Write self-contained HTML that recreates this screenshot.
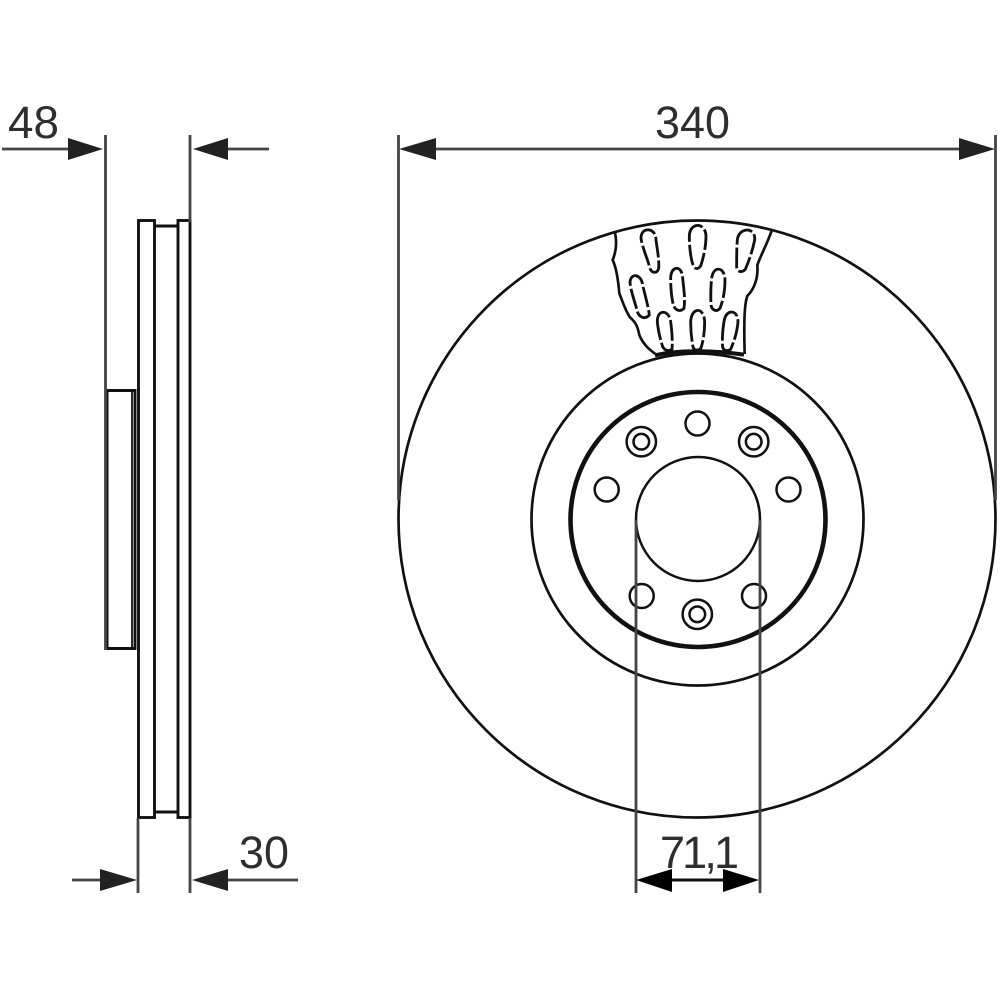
<!DOCTYPE html>
<html>
<head>
<meta charset="utf-8">
<style>
html,body{margin:0;padding:0;background:#fff;}
svg{display:block;}
text{font-family:"Liberation Sans",sans-serif;font-size:45px;fill:#2e2e2e;}
.art{filter:blur(0.35px);}
</style>
</head>
<body>
<svg width="1000" height="1000" viewBox="0 0 1000 1000" xmlns="http://www.w3.org/2000/svg">
<rect width="1000" height="1000" fill="#fff"/>
<g class="art">
<!-- Front view circles -->
<g fill="none" stroke="#111">
  <circle cx="697" cy="519" r="298.5" stroke-width="2.7"/>
  <circle cx="697.5" cy="519.5" r="166" stroke-width="2.7"/>
  <circle cx="698" cy="519.5" r="127.5" stroke-width="4.6"/>
  <circle cx="698" cy="519" r="62" stroke-width="2.5"/>
  <g stroke-width="2.5">
    <circle cx="697.5" cy="423.5" r="12"/>
    <circle cx="606.7" cy="489.5" r="12"/>
    <circle cx="788.5" cy="489.5" r="12"/>
    <circle cx="641.7" cy="596" r="12"/>
    <circle cx="754" cy="596" r="12"/>
    <circle cx="641.3" cy="441.7" r="14.7"/>
    <circle cx="641.3" cy="441.7" r="7.8"/>
    <circle cx="753.7" cy="441.7" r="14.7"/>
    <circle cx="753.7" cy="441.7" r="7.8"/>
    <circle cx="697.3" cy="614.3" r="14.7"/>
    <circle cx="697.3" cy="614.3" r="7.8"/>
  </g>
</g>

<!-- Vent cutaway -->
<g transform="translate(600 210) scale(0.3333)" fill="none" stroke="#111">
  <path stroke-width="8" d="M45 68 C52 100 48 125 38 150 C50 175 55 215 58 250 C70 280 75 300 90 322 C105 335 112 345 118 375 C130 405 150 420 170 435"/>
  <path stroke-width="8" d="M515 62 C500 105 485 130 472 165 C475 200 465 235 442 258 C432 285 432 350 434 432"/>
  <path stroke-width="12" d="M165 436 C230 420 340 420 432 434"/>
  <g stroke-width="8.5" stroke-dasharray="62 9">
    <path d="M123 85 C122 50 168 50 168 90 C172 120 178 150 176 175 C172 192 155 190 150 175 C142 145 128 115 123 85Z"/>
    <path d="M268 80 C268 35 318 35 318 80 C318 110 310 145 302 168 C295 178 285 178 280 168 C272 145 268 110 268 80Z"/>
    <path d="M412 90 C416 50 468 50 464 90 C458 120 448 150 436 178 C425 190 410 185 410 170 C410 140 410 115 412 90Z"/>
    <path d="M90 215 C95 185 125 195 128 225 C135 255 145 290 148 315 C135 330 118 322 112 305 C105 275 92 245 90 215Z"/>
    <path d="M212 205 C212 165 248 165 248 205 C252 240 256 270 252 295 C240 308 225 300 220 285 C214 260 212 230 212 205Z"/>
    <path d="M335 205 C340 165 375 170 375 210 C375 240 370 270 360 295 C350 308 335 300 333 285 C332 260 332 230 335 205Z"/>
    <path d="M172 335 C172 295 208 300 212 335 C216 365 218 395 216 418 C205 425 195 422 188 410 C180 385 174 360 172 335Z"/>
    <path d="M272 335 C275 290 312 290 314 335 C314 365 310 395 302 416 C295 422 285 422 280 414 C275 395 272 360 272 335Z"/>
    <path d="M372 335 C378 295 414 298 414 335 C412 365 402 395 392 418 C382 425 372 422 368 412 C366 385 368 360 372 335Z"/>
  </g>
</g>

<!-- Side view -->
<g fill="none" stroke="#111" stroke-width="2.9">
  <rect x="138.5" y="220.5" width="16" height="597"/>
  <rect x="178" y="220.5" width="12" height="597"/>
  <path d="M154.5 226H178M154.5 812H178"/>
  <path d="M107 390.5H135V648.5H107"/>
  <path d="M132 390.5V648.5" stroke-width="1.8"/>
  <path d="M106.5 390V648" stroke-width="4"/>
</g>

<!-- Extension lines -->
<g fill="none" stroke="#444" stroke-width="2.8">
  <path d="M105.5 135V650"/>
  <path d="M190 135V222"/>
  <path d="M138 818V893"/>
  <path d="M190 818V893"/>
  <path d="M398.5 135V500"/>
  <path d="M995.5 135V500"/>
  <path d="M636 520V893"/>
  <path d="M760 520V893"/>
  <path d="M2 149H70"/>
  <path d="M225 149H269"/>
  <path d="M72 880H102"/>
  <path d="M228 880H298"/>
  <path d="M430 149H965"/>
</g>
<path d="M670 880H725" stroke="#111" stroke-width="3" fill="none"/>

<!-- Arrowheads -->
<g fill="#222">
  <polygon points="103,149 68,138 68,160"/>
  <polygon points="193,149 228,138 228,160"/>
  <polygon points="137,880 100,869 100,891"/>
  <polygon points="192,880 228,869 228,891"/>
  <polygon points="399,149 436,138 436,160"/>
  <polygon points="995,149 959,138 959,160"/>
</g>
<g fill="#000">
  <polygon points="636,880 672,869 672,892"/>
  <polygon points="759,880 723,869 723,892"/>
</g>

<!-- Labels -->
<text x="8" y="138" textLength="51" lengthAdjust="spacingAndGlyphs">48</text>
<text x="655" y="138" textLength="75" lengthAdjust="spacingAndGlyphs">340</text>
<text x="239" y="868" textLength="50" lengthAdjust="spacingAndGlyphs">30</text>
<text x="660" y="868" textLength="79" lengthAdjust="spacing">71,1</text>
</g>
</svg>
</body>
</html>
